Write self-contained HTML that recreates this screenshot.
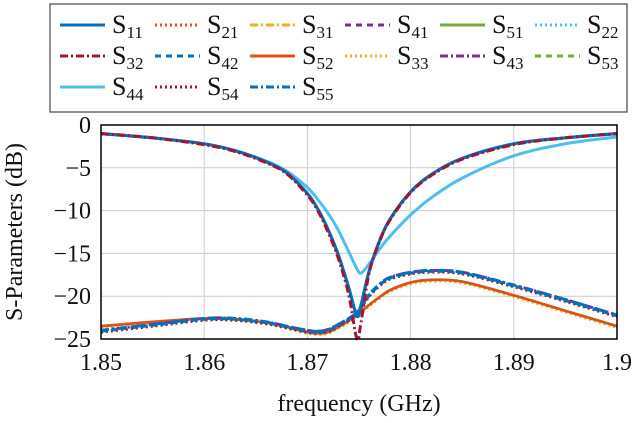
<!DOCTYPE html>
<html><head><meta charset="utf-8"><style>
body{margin:0;background:#fff;width:640px;height:418px;overflow:hidden}
svg{font-family:"Liberation Serif",serif}
</style></head><body>
<svg id="c" width="640" height="418"></svg>
<script>
const freq=[1.85,1.855,1.86,1.863,1.866,1.868,1.87,1.871,1.872,1.873,1.874,1.8748,1.8752,1.876,1.877,1.878,1.88,1.882,1.885,1.89,1.895,1.9];
const s11=[-1,-1.5,-2.2,-3.0,-4.3,-5.6,-8.0,-9.8,-12.2,-15.2,-19,-22.3,-21,-17,-13.5,-11,-7.8,-5.8,-3.9,-2.2,-1.5,-1];
const s32=[-1,-1.5,-2.3,-3.1,-4.4,-5.7,-8.2,-10,-12.5,-15.6,-19.8,-25,-23,-17.2,-13.6,-11.1,-7.9,-5.9,-4,-2.3,-1.5,-1];
const s44=[-1,-1.5,-2.2,-3,-4.2,-5.4,-7.3,-8.7,-10.3,-12.3,-14.8,-16.8,-17.3,-16.2,-14.5,-13,-10.5,-8.5,-6.2,-3.6,-2.2,-1.4];
const sLowA=[-23.5,-23,-22.6,-22.7,-23.1,-23.6,-24.2,-24.35,-24.2,-23.6,-22.9,-22.2,-21.8,-21,-20.1,-19.3,-18.4,-18.1,-18.3,-19.9,-21.7,-23.5];
const sLowB=[-24,-23.3,-22.6,-22.6,-23,-23.5,-24,-24.1,-23.9,-23.3,-22.6,-21.9,-21.2,-19.8,-18.6,-17.8,-17.2,-17,-17.2,-18.7,-20.4,-22.2];
const xTicks=[1.85,1.86,1.87,1.88,1.89,1.9];
const xTickLabels=["1.85","1.86","1.87","1.88","1.89","1.9"];
const yTicks=[0,-5,-10,-15,-20,-25];
const yTickLabels=["0","\u22125","\u221210","\u221215","\u221220","\u221225"];

const L=101,R=617,T=125,B=339;
const X=f=>L+(f-1.85)/0.05*(R-L);
const Y=v=>T+(-v)/25*(B-T);
const svg=document.getElementById('c');
const NS='http://www.w3.org/2000/svg';
function mk(t,a,p){const e=document.createElementNS(NS,t);for(const k in a)e.setAttribute(k,a[k]);(p||svg).appendChild(e);return e;}

xTicks.forEach((t,i)=>{
  const g=mk('line',{x1:X(t),x2:X(t),y1:T,y2:B,stroke:'#ccc','stroke-width':1});
  
  
  const tx=mk('text',{x:X(t),y:B+31,'text-anchor':'middle','font-size':24,fill:'#111'});
  tx.textContent=xTickLabels[i];
  
  
});
yTicks.forEach((t,i)=>{
  const g=mk('line',{x1:L,x2:R,y1:Y(t),y2:Y(t),stroke:'#ccc','stroke-width':1});
  
  
  const tx=mk('text',{x:L-10,y:Y(t)+8,'text-anchor':'end','font-size':24,fill:'#111'});
  tx.textContent=yTickLabels[i];
  
  
});

function pathD(arr,dy){
  const p=arr.map((v,i)=>[X(freq[i]),Y(v+(dy||0))]);
  let d='M'+p[0][0].toFixed(1)+','+p[0][1].toFixed(1);
  for(let i=0;i<p.length-1;i++){
    const p0=p[i-1]||p[i],p1=p[i],p2=p[i+1],p3=p[i+2]||p2;
    const c1=[p1[0]+(p2[0]-p0[0])/6,p1[1]+(p2[1]-p0[1])/6];
    const c2=[p2[0]-(p3[0]-p1[0])/6,p2[1]-(p3[1]-p1[1])/6];
    d+=' C'+c1.map(n=>n.toFixed(1)).join(',')+' '+c2.map(n=>n.toFixed(1)).join(',')+' '+p2[0].toFixed(1)+','+p2[1].toFixed(1);
  }
  return d;
}
const series=[
 {d:sLowA,c:'#edb120',da:'2,3',w:3,n:'s33',dy:-0.15},
 {d:sLowA,c:'#d95319',da:'',w:2.8,n:'s52'},
 {d:sLowB,c:'#a2142f',da:'2,3',w:3,n:'s54',dy:-0.2},
 {d:sLowB,c:'#7e2f8e',da:'8,3,2,3',w:3,n:'s43'},
 {d:sLowB,c:'#0072bd',da:'8,4,2,4',w:3,n:'s55'},
 {d:sLowB,c:'#0072bd',da:'6,4',w:3,n:'s42',dy:-0.1},
 {d:s44,c:'#4dbeee',da:'',w:3,n:'s44'},
 {d:s11,c:'#0072bd',da:'',w:3.2,n:'s11'},
 {d:s32,c:'#a2142f',da:'8,3,2,3',w:3,n:'s32'}
];
series.forEach(s=>{
  const p=mk('path',{d:pathD(s.d,s.dy),fill:'none',stroke:s.c,'stroke-width':s.w,'stroke-dasharray':s.da,'stroke-linejoin':'round'});
  
  
});
const fr=mk('rect',{x:L,y:T,width:R-L,height:B-T,fill:'none',stroke:'#000','stroke-width':1.5});



const xt=mk('text',{x:359,y:411,'text-anchor':'middle','font-size':24,fill:'#111'});
xt.textContent='frequency (GHz)';


const yt=mk('text',{x:0,y:0,'text-anchor':'middle','font-size':24,fill:'#111',transform:'translate(22,232) rotate(-90)'});
yt.textContent='S-Parameters (dB)';



const lg=mk('rect',{x:50,y:4,width:577,height:108,fill:'#fff',stroke:'#555','stroke-width':1.3});


const legend=[
 ['11','#0072bd',''],['21','#d95319','2,3'],['31','#edb120','8,3,2,3'],['41','#7e2f8e','6,5'],['51','#77ac30',''],['22','#4dbeee','2,3'],
 ['32','#a2142f','8,3,2,3'],['42','#0072bd','6,5'],['52','#d95319',''],['33','#edb120','2,3'],['43','#7e2f8e','8,3,2,3'],['53','#77ac30','6,5'],
 ['44','#4dbeee',''],['54','#a2142f','2,3'],['55','#0072bd','8,3,2,3']
];
const colX=[60,155,250,345,440,535];
legend.forEach((e,i)=>{
  const r=Math.floor(i/6),c=i%6,x=colX[c],y=25+r*31;
  const ln=mk('line',{x1:x,x2:x+45,y1:y,y2:y,stroke:e[1],'stroke-width':3,'stroke-dasharray':e[2]});
  
  
  const t=mk('text',{x:x+52,y:y+8,'font-size':26,fill:'#111'});
  t.textContent='S';
  const sb=mk('tspan',{'font-size':17,dy:5},t);
  sb.textContent=e[0];
  
  
});
</script>
</body></html>
